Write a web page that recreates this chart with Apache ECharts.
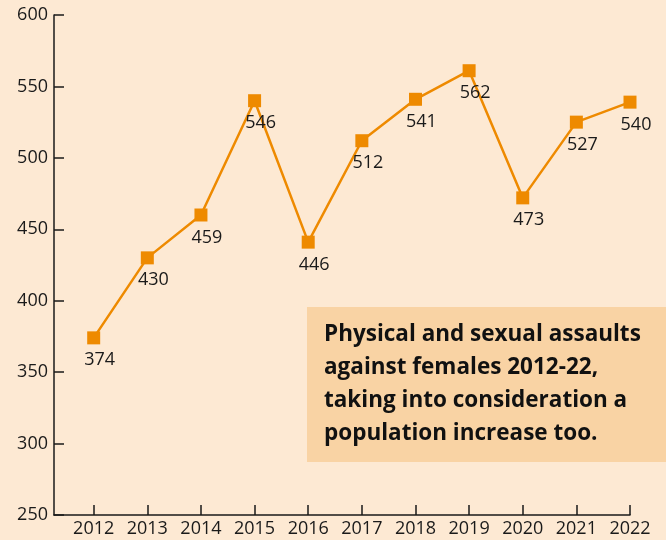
<!DOCTYPE html>
<html>
<head>
<meta charset="utf-8">
<script src="https://cdn.jsdelivr.net/npm/echarts@6/dist/echarts.min.js"></script>
<style>
html,body{margin:0;padding:0;background:#FDE9D3;}
#chart{width:666px;height:540px;}
</style>
</head>
<body>
<div id="chart"></div>
<script>
// Data
var years = [2012, 2013, 2014, 2015, 2016, 2017, 2018, 2019, 2020, 2021, 2022];
// plotted positions of the markers as drawn in the picture
var values = [374, 430, 460, 540, 441, 512, 541, 561, 472, 525, 539];
// printed figures next to the markers
var valueLabels = ['374', '430', '459', '546', '446', '512', '541', '562', '473', '527', '540'];
var yTicks = [250, 300, 350, 400, 450, 500, 550, 600];
var noteLines = [
  'Physical and sexual assaults',
  'against females 2012-22,',
  'taking into consideration a',
  'population increase too.'
];

var FONT = '"Open Sans", "Noto Sans", sans-serif';
var INK = '#1a1a1a';
var ORANGE = '#EE8A00';

var chart = echarts.init(document.getElementById('chart'), null, {renderer: 'canvas'});
var pts = years.map(function (y, i) { return [y, values[i]]; });

chart.setOption({
  backgroundColor: '#FDE9D3',
  animation: false,
  grid: {left: 54, right: 36, top: 15, bottom: 25, containLabel: false},
  xAxis: {
    type: 'value',
    min: 2011.26,
    max: 2022,
    splitLine: {show: false},
    axisLine: {show: true, lineStyle: {color: INK, width: 1.5}},
    axisTick: {show: true, inside: true, length: 10, customValues: years, lineStyle: {color: INK, width: 1.5}},
    axisLabel: {
      customValues: years,
      color: INK, fontFamily: FONT, fontSize: 18, margin: 5,
      formatter: function (v) { return String(v); }
    }
  },
  yAxis: {
    type: 'value',
    min: 250,
    max: 600,
    interval: 50,
    splitLine: {show: false},
    axisLine: {show: true, lineStyle: {color: INK, width: 1.5}},
    axisTick: {show: true, inside: true, length: 10, lineStyle: {color: INK, width: 1.5}},
    axisLabel: {color: INK, fontFamily: FONT, fontSize: 18, margin: 6,
      formatter: function (v) { return yTicks.indexOf(v) >= 0 ? String(v) : ''; }}
  },
  series: [{
    type: 'line',
    data: pts,
    symbol: 'rect',
    symbolSize: 13,
    lineStyle: {color: ORANGE, width: 2.5},
    itemStyle: {color: ORANGE},
    label: {
      show: true,
      position: 'bottom',
      distance: 7,
      offset: [6, 0],
      color: INK,
      fontFamily: FONT,
      fontSize: 18,
      formatter: function (p) { return valueLabels[p.dataIndex]; }
    },
    z: 3
  }],
  graphic: [{
    type: 'group',
    children: [
      {type: 'rect', shape: {x: 307, y: 307, width: 359, height: 155}, style: {fill: '#F9D3A4'}, z: 1},
      {type: 'text', x: 324, y: 318, z: 2, style: {
        text: noteLines.join('\n'),
        fontFamily: FONT, fontWeight: 'bold', fontSize: 22.5, lineHeight: 33,
        fill: '#111', verticalAlign: 'top'
      }}
    ]
  }]
});
</script>
</body>
</html>
